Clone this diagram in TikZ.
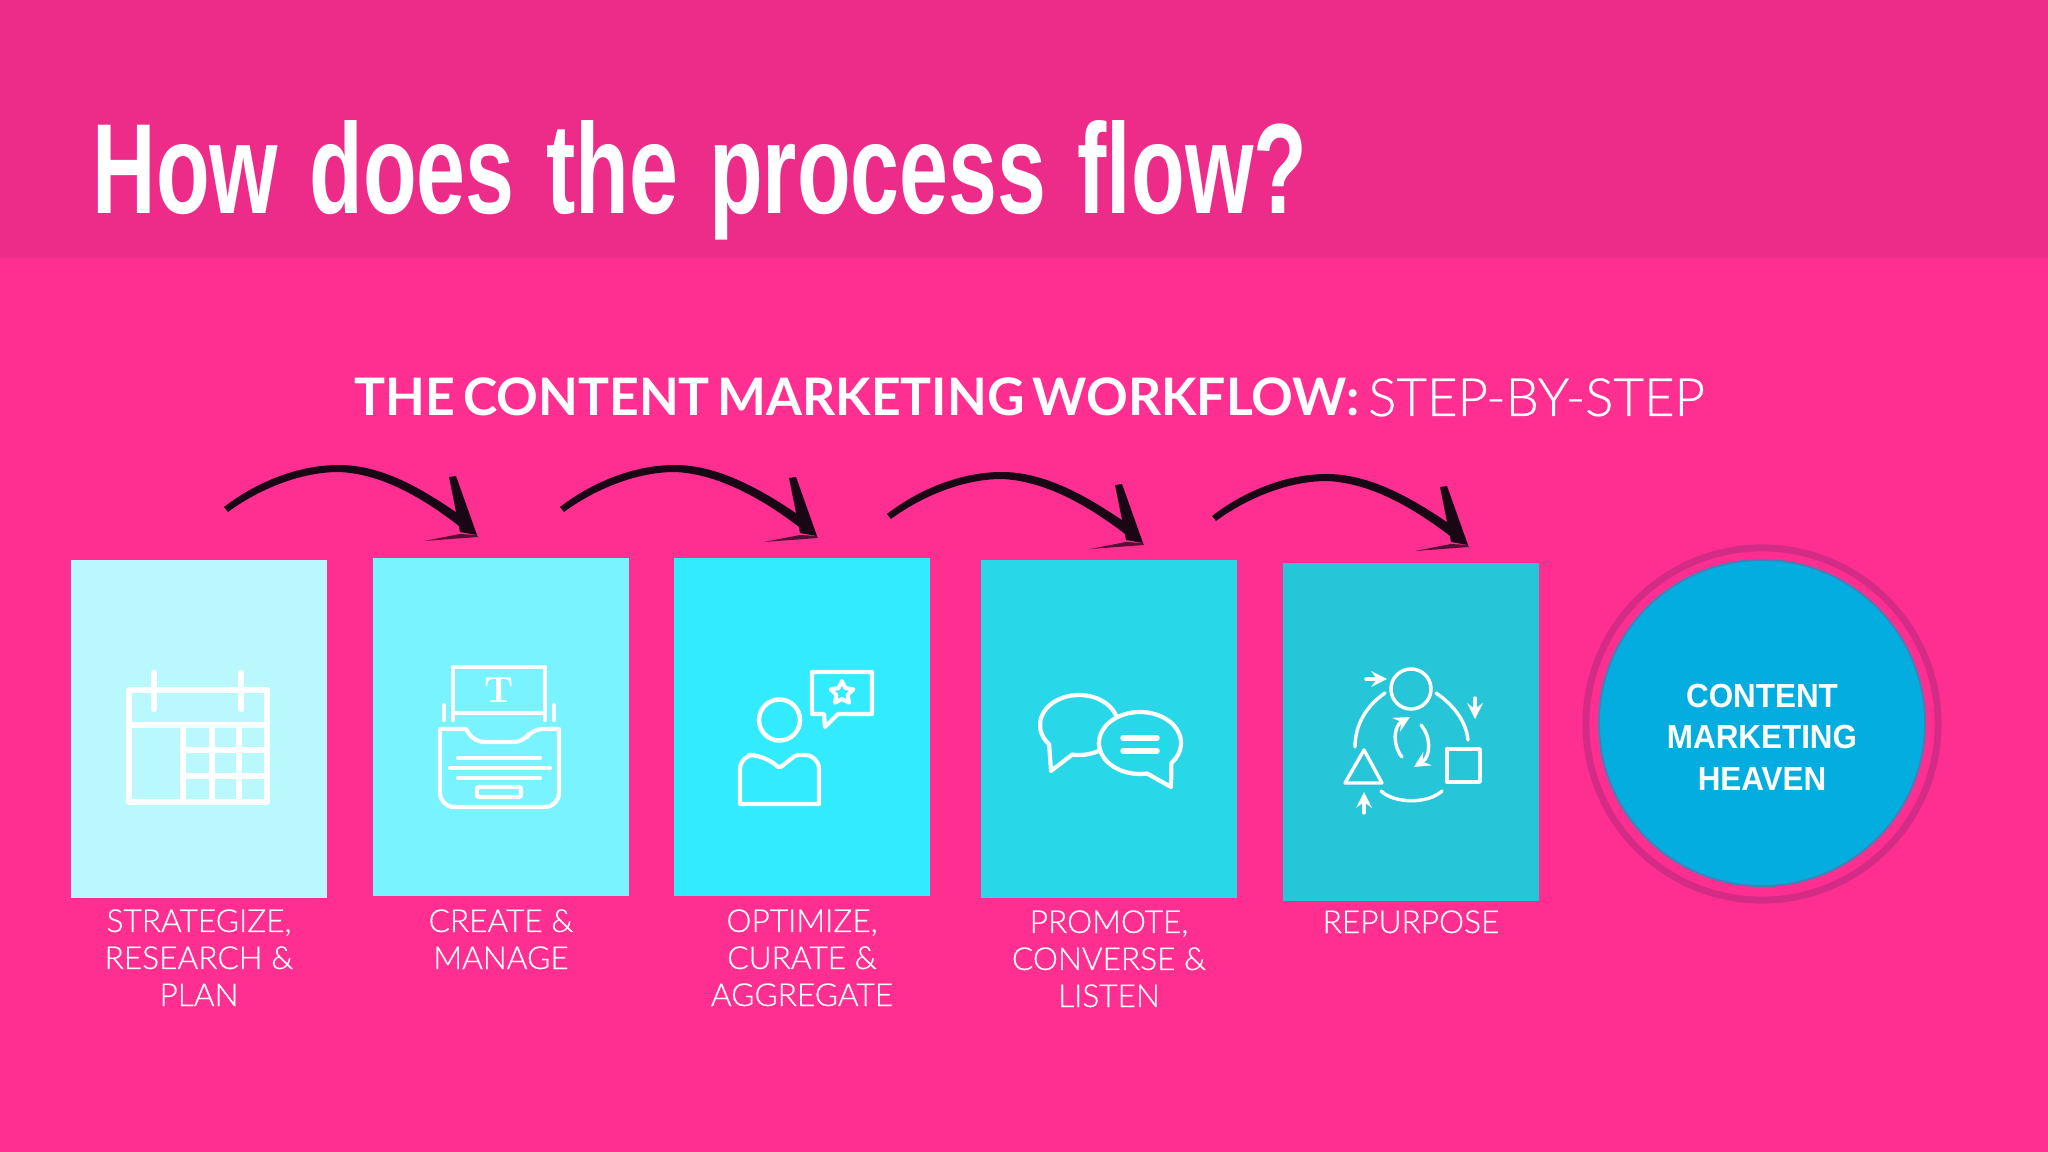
\documentclass[tikz,border=0pt]{standalone}
\usepackage{fontspec}
\usepackage{xcolor}
\usepackage{tikz}
\usetikzlibrary{calc,shapes.geometric}

\newfontfamily\titlefont[FakeStretch=0.685,WordSpace=1.28]{Liberation Sans}
\newfontfamily\headfont[WordSpace=0.63]{Lato}
\newfontfamily\lightfont[FakeBold=0.5]{Lato Light}
\newfontfamily\circlefont[FakeStretch=0.94]{Liberation Sans}

% Arrow drawn by hand: #1 = start, #2 = tip
\newcommand{\flowarrow}[2]{
	\fill[inkarrow] ($(#1)+(-1,-3)$) .. controls ($(#1)+(30,-27)$) and ($(#1)+(72,-45)$) .. ($(#1)+(114,-45)$)
	.. controls ($(#1)+(160,-45)$) and ($(#2)+(-50,-43)$) .. ($(#2)+(-14,-18)$)
	-- ($(#2)+(-14,-6)$)
	.. controls ($(#2)+(-50,-34)$) and ($(#1)+(160,-36)$) .. ($(#1)+(114,-38)$)
	.. controls ($(#1)+(72,-38)$) and ($(#1)+(30,-18)$) .. ($(#1)+(3,2)$) -- cycle;
	\fill[inkarrow] ($(#2)+(-28,-58)$) -- ($(#2)+(-21,-59)$) -- (#2) -- ($(#2)+(-17,-3)$) -- cycle;
	\fill[inkarrow, fill=inkCol!75!slideBg] (#2) -- ($(#2)+(1,2)$) -- ($(#2)+(-53,6)$) -- ($(#2)+(-17,-1)$) -- cycle;
}

\begin{document}
\begin{tikzpicture}[
	x=0.01cm,
	y=-0.01cm,
	>=stealth,
	line cap=round,
	line join=round
	]
	% Colours
	\definecolor{slideBg}{HTML}{FF2F92}
	\definecolor{headBg}{HTML}{EC2C88}
	\definecolor{boxA}{HTML}{B9F9FE}
	\definecolor{boxB}{HTML}{78F3FF}
	\definecolor{boxC}{HTML}{33EBFF}
	\definecolor{boxD}{HTML}{28D8E9}
	\definecolor{boxE}{HTML}{26C5D8}
	\definecolor{ringCol}{HTML}{D42C86}
	\definecolor{heavenCol}{HTML}{03ADE0}
	\definecolor{heavenEdge}{HTML}{4A7DB5}
	\definecolor{inkCol}{HTML}{1A0716}
	
	% Styles
	\tikzset{
		stepbox/.style={rectangle, inner sep=0pt, outer sep=0pt,
			minimum width=2.56cm, minimum height=3.38cm},
		lbl/.style={anchor=base, align=center, text=white, inner sep=0pt,
			font=\lightfont\fontsize{9}{10.53}\selectfont},
		inkarrow/.style={fill=inkCol},
		iconfat/.style={draw=white, line width=0.055cm},
		iconline/.style={draw=white, line width=0.042cm},
		iconthin/.style={draw=white, line width=0.034cm}
	}
	
	\useasboundingbox (0,0) rectangle (2048,1152);
	\fill[slideBg] (0,0) rectangle (2048,1152);
	\fill[headBg] (0,0) rectangle (2048,258);
	
	% ===== Titles =====
	\node[anchor=base west, inner sep=0pt, text=white, font=\titlefont\bfseries\fontsize{36.5}{40}\selectfont] (T) at (92,214) {How does the process flow?};
	\node[anchor=base west, inner sep=0pt, text=white, font=\fontsize{14.7}{18}\selectfont] (H) at (354,416) {{\headfont\bfseries THE CONTENT MARKETING WORKFLOW:}\hspace{0.09cm}{\lightfont\fontsize{15}{18}\selectfont STEP-BY-STEP}};
	
	% ===== Boxes =====
	\node[stepbox, fill=boxA] (B1) at (199,729) {};
	\node[stepbox, fill=boxB] (B2) at (501,727) {};
	\node[stepbox, fill=boxC] (B3) at (802,727) {};
	\node[stepbox, fill=boxD] (B4) at (1109,729) {};
	\node[stepbox, fill=boxE] (B5) at (1411,732) {};
	
	% ===== Labels =====
	\node[lbl] (L1) at (199,1006) {STRATEGIZE,\\RESEARCH \&\\PLAN};
	\node[lbl] (L2) at (501,969) {CREATE \&\\MANAGE};
	\node[lbl] (L3) at (802,1006) {OPTIMIZE,\\CURATE \&\\AGGREGATE};
	\node[lbl] (L4) at (1109,1007) {PROMOTE,\\CONVERSE \&\\LISTEN};
	\node[lbl] (L5) at (1411,933) {REPURPOSE};
	
	% ===== Circle =====
	\node[circle, draw=ringCol, line width=0.07cm, minimum size=3.52cm, inner sep=0pt] (RING) at (1762,724) {};
	\node[circle, fill=heavenCol, draw=heavenEdge, line width=0.02cm, minimum size=3.26cm, inner sep=0pt] (HEAVEN) at (1762,723) {};
	\node[inner sep=0pt, text=white, align=center,
	font=\circlefont\bfseries\fontsize{9.5}{11.8}\selectfont] (HTEXT) at (HEAVEN) [yshift=-0.14cm] {CONTENT\\MARKETING\\HEAVEN};
	
	% ===== Arrows =====
	\coordinate (A1) at (225,510);
	\coordinate (A2) at (477,535);
	\coordinate (A3) at (561,510);
	\coordinate (A4) at (817,536);
	\coordinate (A5) at (888,517);
	\coordinate (A6) at (1143,543);
	\coordinate (A7) at (1213,519);
	\coordinate (A8) at (1468,545);
	\flowarrow{A1}{A2}
	\flowarrow{A3}{A4}
	\flowarrow{A5}{A6}
	\flowarrow{A7}{A8}
	
	% ===== Icon 1: calendar =====
	\draw[iconfat] (129,690) rectangle (267,802);
	\draw[iconfat] (129,725) -- (267,725);
	\draw[iconfat] (183,725) -- (183,802);
	\draw[iconfat] (212,725) -- (212,802);
	\draw[iconfat] (239,725) -- (239,802);
	\draw[iconfat] (183,750) -- (267,750);
	\draw[iconfat] (183,776) -- (267,776);
	\draw[white, line width=0.065cm] (154,673) -- (154,709);
	\draw[white, line width=0.065cm] (241,673) -- (241,709);
	
	% ===== Icon 2: tray =====
	\draw[iconline] (453,720) -- (453,667) -- (545,667) -- (545,720);
	\draw[iconline] (453,713) -- (545,713);
	\draw[iconline] (444,705) -- (444,720);
	\draw[iconline] (554,705) -- (554,720);
	\node[text=white, inner sep=0pt, font=\bfseries\fontsize{10.4}{12}\selectfont] (TT) at (499,690) {T};
	\draw[iconline] (440,729) -- (466,729) [rounded corners=0.1cm] -- (474,742) -- (524,742) -- (532,729) [sharp corners] -- (559,729) [rounded corners=0.14cm] -- (559,807) -- (440,807) [sharp corners] -- cycle;
	\draw[iconline] (458,758) -- (540,758);
	\draw[iconline] (450,768) -- (550,768);
	\draw[iconline] (458,778) -- (540,778);
	\draw[iconline, rounded corners=0.02cm] (477,787) rectangle (521,797);
	
	% ===== Icon 3: person + bubble =====
	\node[circle, draw=white, line width=0.045cm, minimum size=0.41cm, inner sep=0pt] (HEAD) at (779.5,720) {};
	\draw[iconline] (740,804) [rounded corners=0.14cm] -- (740,755) -- (763,755) [rounded corners=0.02cm] -- (779.5,768) -- (796,755) [rounded corners=0.14cm] -- (819,755) [sharp corners] -- (819,804) -- cycle;
	\draw[iconline] (812,672) -- (872,672) -- (872,714) -- (838,714) -- (825,727) -- (824,714) -- (812,714) -- cycle;
	\node[star, star points=5, star point ratio=2, draw=white, line width=0.04cm, minimum size=0.24cm, inner sep=0pt] (STAR) at (842,693) {};
	
	% ===== Icon 4: two bubbles =====
	\draw[iconline] (1051,771) -- ($(1079,725)+(140:39 and 30)$) arc[start angle=140, end angle=460, x radius=39, y radius=30] -- cycle;
	\draw[iconline, fill=boxD] (1171,787) -- ($(1140,743)+(40:41 and 31)$) arc[start angle=40, end angle=-280, x radius=41, y radius=31] -- cycle;
	\draw[iconfat] (1123,738) -- (1157,738);
	\draw[iconfat] (1123,751) -- (1157,751);
	
	% ===== Icon 5: repurpose cycle =====
	\node[circle, draw=white, line width=0.035cm, minimum size=0.4cm, inner sep=0pt] (ROUND) at (1411,689) {};
	\draw[iconthin] (1385,693) .. controls (1366,706) and (1355,725) .. (1355,747);
	\draw[iconthin] (1436,693) .. controls (1455,706) and (1466,722) .. (1468,740);
	\draw[iconthin] (1381,791) .. controls (1395,804) and (1428,804) .. (1442,791);
	\draw[iconthin] (1364,750) -- (1382,783) -- (1345,783) -- cycle;
	\draw[iconthin] (1447,749) rectangle (1480,782);
	\draw[iconthin, ->] (1366,679) -- (1387,679);
	\draw[iconthin, ->] (1475,698) -- (1475,719);
	\draw[iconthin, ->] (1364,813) -- (1364,792);
	\draw[iconthin, ->] (1402,757) .. controls (1392,745) and (1394,726) .. (1410,717);
	\draw[iconthin, ->] (1421,725) .. controls (1432,738) and (1430,757) .. (1414,767);
\end{tikzpicture}
\end{document}
